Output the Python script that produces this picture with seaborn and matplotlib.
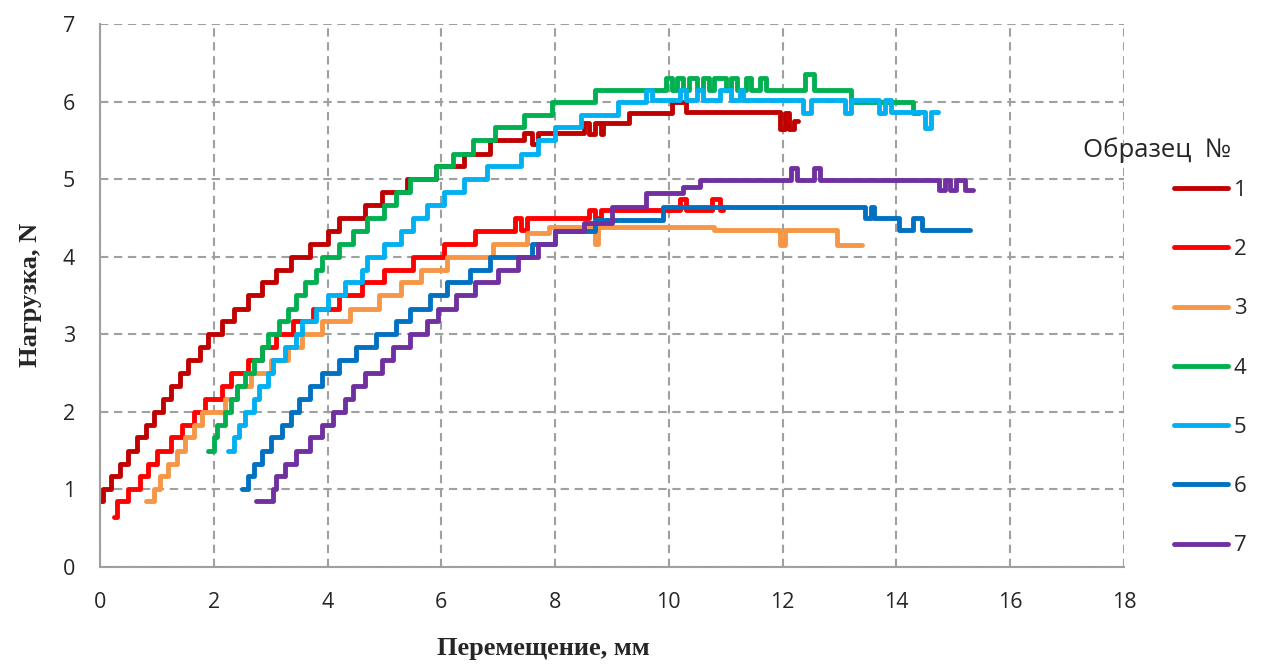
import pandas as pd
import matplotlib.pyplot as plt
import seaborn as sns

# step data: x where a level starts, load level
s1_x = [0.0, 0.05, 0.2, 0.35, 0.5, 0.65, 0.8, 0.95, 1.1, 1.25, 1.4, 1.55, 1.75, 1.9, 2.15, 2.35, 2.6, 2.85,
        3.1, 3.35, 3.7, 4.0, 4.2, 4.65, 4.95, 5.4, 5.9, 6.4, 6.85, 7.45, 7.6, 7.7, 8.5, 8.6, 8.7, 8.8, 8.85,
        9.3, 10.05, 10.3, 11.95, 12.05, 12.12, 12.2, 12.27]
s1_y = [0.85, 1.0, 1.17, 1.33, 1.5, 1.67, 1.83, 2.0, 2.17, 2.33, 2.5, 2.67, 2.83, 3.0, 3.17, 3.33, 3.5, 3.67,
        3.83, 4.0, 4.17, 4.33, 4.5, 4.67, 4.83, 5.0, 5.17, 5.33, 5.5, 5.6, 5.45, 5.6, 5.72, 5.58, 5.72, 5.58,
        5.72, 5.85, 6.0, 5.87, 5.65, 5.85, 5.65, 5.75, 5.75]

s2_x = [0.25, 0.3, 0.5, 0.7, 0.85, 1.0, 1.25, 1.45, 1.65, 1.85, 2.15, 2.3, 2.6, 2.85, 3.1, 3.4, 3.75, 4.2,
        4.6, 5.0, 5.5, 6.05, 6.6, 7.3, 7.4, 7.5, 8.6, 8.7, 8.8, 10.2, 10.3, 10.75, 10.9, 10.95]
s2_y = [0.65, 0.85, 1.0, 1.17, 1.33, 1.5, 1.67, 1.83, 2.0, 2.17, 2.33, 2.5, 2.67, 2.83, 3.0, 3.17, 3.33, 3.5,
        3.67, 3.83, 4.0, 4.17, 4.33, 4.5, 4.35, 4.5, 4.6, 4.5, 4.6, 4.75, 4.6, 4.75, 4.6, 4.6]

s3_x = [0.8, 0.95, 1.05, 1.2, 1.35, 1.5, 1.65, 1.8, 2.2, 2.4, 2.65, 3.0, 3.3, 3.55, 3.9, 4.4, 4.9, 5.3, 5.65,
        6.1, 6.9, 7.5, 7.9, 8.7, 8.75, 10.8, 11.95, 12.05, 12.95, 13.4]
s3_y = [0.85, 1.0, 1.17, 1.33, 1.5, 1.67, 1.83, 2.0, 2.17, 2.33, 2.5, 2.67, 2.83, 3.0, 3.17, 3.33, 3.5, 3.67,
        3.83, 4.0, 4.17, 4.3, 4.38, 4.17, 4.38, 4.34, 4.15, 4.34, 4.15, 4.15]

s4_x = [1.9, 2.0, 2.05, 2.2, 2.3, 2.4, 2.55, 2.7, 2.85, 2.95, 3.15, 3.3, 3.45, 3.6, 3.8, 3.9, 4.2, 4.45, 4.7,
        5.0, 5.2, 5.45, 5.9, 6.2, 6.55, 6.95, 7.45, 7.95, 8.7, 9.95, 10.05, 10.15, 10.25, 10.35, 10.5, 10.6,
        10.7, 10.8, 11.0, 11.1, 11.2, 11.35, 11.45, 11.6, 11.7, 12.4, 12.55, 13.2, 14.3, 14.4]
s4_y = [1.5, 1.67, 1.83, 2.0, 2.17, 2.33, 2.5, 2.67, 2.83, 3.0, 3.17, 3.33, 3.5, 3.67, 3.83, 4.0, 4.17, 4.33,
        4.5, 4.67, 4.83, 5.0, 5.17, 5.33, 5.5, 5.67, 5.83, 6.0, 6.15, 6.3, 6.15, 6.3, 6.15, 6.3, 6.15, 6.3,
        6.15, 6.3, 6.15, 6.3, 6.15, 6.3, 6.15, 6.3, 6.15, 6.36, 6.15, 6.0, 5.85, 5.85]

s5_x = [2.25, 2.35, 2.45, 2.55, 2.7, 2.8, 2.95, 3.05, 3.25, 3.45, 3.55, 3.8, 4.0, 4.3, 4.6, 4.7, 5.0, 5.3,
        5.5, 5.75, 6.05, 6.4, 6.8, 7.4, 7.7, 8.0, 8.45, 9.1, 9.6, 9.7, 10.2, 10.3, 10.5, 10.6, 10.9, 11.1,
        11.25, 11.3, 12.35, 12.5, 13.1, 13.2, 13.7, 13.8, 13.9, 14.5, 14.6, 14.73]
s5_y = [1.5, 1.67, 1.83, 2.0, 2.17, 2.33, 2.5, 2.67, 2.83, 3.0, 3.17, 3.33, 3.5, 3.67, 3.83, 4.0, 4.17, 4.33,
        4.5, 4.67, 4.83, 5.0, 5.17, 5.33, 5.5, 5.67, 5.83, 6.0, 6.15, 6.02, 6.15, 6.02, 6.15, 6.02, 6.15, 6.02,
        6.15, 6.02, 5.85, 6.02, 5.85, 6.02, 5.85, 6.02, 5.87, 5.66, 5.87, 5.87]

s6_x = [2.5, 2.6, 2.7, 2.85, 3.0, 3.2, 3.35, 3.5, 3.7, 3.9, 4.2, 4.5, 4.85, 5.2, 5.45, 5.8, 6.1, 6.5, 6.85,
        7.6, 8.0, 8.7, 9.9, 13.45, 13.55, 13.6, 14.05, 14.3, 14.45, 15.29]
s6_y = [1.0, 1.17, 1.33, 1.5, 1.67, 1.83, 2.0, 2.17, 2.33, 2.5, 2.67, 2.83, 3.0, 3.17, 3.33, 3.5, 3.67, 3.83,
        4.0, 4.17, 4.33, 4.47, 4.64, 4.5, 4.64, 4.5, 4.34, 4.5, 4.34, 4.34]

s7_x = [2.75, 3.05, 3.1, 3.25, 3.45, 3.7, 3.9, 4.1, 4.3, 4.45, 4.65, 4.95, 5.15, 5.45, 5.75, 5.95, 6.25, 6.6,
        7.0, 7.35, 7.7, 8.0, 8.5, 9.0, 9.6, 10.25, 10.55, 12.15, 12.25, 12.55, 12.65, 14.75, 14.85, 14.95,
        15.05, 15.2, 15.35]
s7_y = [0.85, 1.0, 1.17, 1.33, 1.5, 1.67, 1.83, 2.0, 2.17, 2.33, 2.5, 2.67, 2.83, 3.0, 3.17, 3.33, 3.5, 3.67,
        3.83, 4.0, 4.17, 4.33, 4.43, 4.64, 4.82, 4.9, 4.99, 5.15, 4.99, 5.15, 4.99, 4.86, 4.99, 4.86, 4.99,
        4.86, 4.86]

samples = ["1", "2", "3", "4", "5", "6", "7"]
colors = ["#C00000", "#FF0000", "#F79646", "#00B050", "#00B0F0", "#0070C0", "#7030A0"]

series = [(s1_x, s1_y), (s2_x, s2_y), (s3_x, s3_y), (s4_x, s4_y), (s5_x, s5_y), (s6_x, s6_y), (s7_x, s7_y)]
frames = []
for name, (xs, ys) in zip(samples, series):
    frames.append(pd.DataFrame({"x": xs, "y": ys, "sample": name}))
df = pd.concat(frames, ignore_index=True)

sns.set_style("white")
plt.rcParams["font.family"] = ["Open Sans", "DejaVu Sans"]

fig = plt.figure(figsize=(12.61, 6.69), dpi=100)
ax = fig.add_axes([0.0793, 0.1525, 0.812, 0.8116])

sns.lineplot(data=df, x="x", y="y", hue="sample", palette=dict(zip(samples, colors)),
             estimator=None, sort=False, drawstyle="steps-post", linewidth=3.5, legend=False, ax=ax)

ax.set_xlim(0, 18)
ax.set_ylim(0, 7)
ax.set_xticks(range(0, 19, 2))
ax.set_yticks(range(0, 8))
ax.grid(True, color="#A0A0A0", linewidth=1.5, linestyle=(0, (4, 2.7)))
ax.set_axisbelow(True)
for side in ["top", "right"]:
    ax.spines[side].set_visible(False)
for side in ["left", "bottom"]:
    ax.spines[side].set_color("#A0A0A0")
    ax.spines[side].set_linewidth(1.5)
ax.tick_params(axis="both", direction="out", length=6, width=1.5, color="#A0A0A0", labelsize=15.5)
ax.tick_params(axis="x", pad=12)
ax.tick_params(axis="y", pad=12)
ax.set_xlabel("")
ax.set_ylabel("")

fig.text(30 / 1261, 0.559, "Нагрузка, N", rotation=90, ha="center", va="center",
         family="Liberation Serif", fontweight="bold", fontsize=19)
fig.text(543 / 1261, 0.031, "Перемещение, мм", ha="center", va="center",
         family="Liberation Serif", fontweight="bold", fontsize=19)

fig.text(1083 / 1261, 1 - 150 / 669, "Образец  №", ha="left", va="center", fontsize=18.5)
ax.legend(ax.lines[:7], samples, loc="upper left", bbox_to_anchor=(1174 / 1261, 1 - 180 / 669),
          bbox_transform=fig.transFigure, frameon=False, fontsize=16, handlelength=2.45,
          handletextpad=0.25, labelspacing=1.72, borderpad=0, borderaxespad=0)

fig.savefig("out.png", dpi=100)
